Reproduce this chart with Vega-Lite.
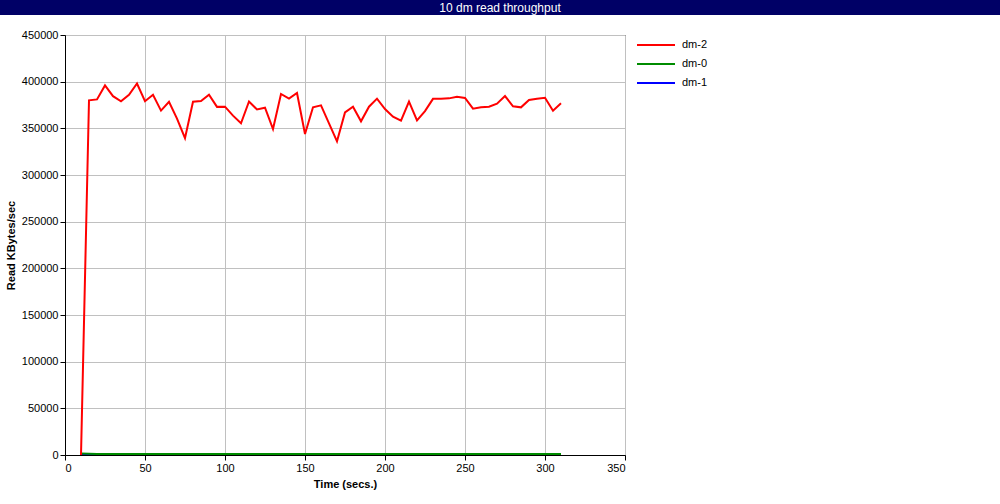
{
  "$schema": "https://vega.github.io/schema/vega-lite/v6.json",
  "padding": 0,
  "background": "white",
  "spacing": 13,
  "config": {
    "font": "Liberation Sans",
    "view": {"stroke": null},
    "axis": {
      "labelFont": "Liberation Sans",
      "labelFontSize": 11,
      "labelColor": "black",
      "titleFont": "Liberation Sans",
      "titleFontSize": 11,
      "titleFontWeight": "bold",
      "titleColor": "black",
      "domainColor": "black",
      "tickColor": "black",
      "tickSize": 5,
      "gridColor": "#c0c0c0",
      "gridOpacity": 1,
      "zindex": 1
    },
    "legend": {
      "labelFont": "Liberation Sans",
      "labelFontSize": 11,
      "labelColor": "black"
    }
  },
  "vconcat": [
    {
      "width": 1000,
      "height": 15,
      "view": {"fill": "#000066", "stroke": null},
      "data": {"values": [{"t": "10 dm read throughput"}]},
      "mark": {"type": "text", "color": "white", "fontSize": 12, "font": "Liberation Sans", "baseline": "middle", "align": "center"},
      "encoding": {"text": {"field": "t"}}
    },
    {
      "bounds": "flush",
      "spacing": 0,
      "hconcat": [
        {
          "width": 65,
          "height": 420,
          "data": {"values": [{"e": ""}]},
          "mark": {"type": "text"},
          "encoding": {"text": {"field": "e"}}
        },
        {
          "width": 560,
          "height": 420,
          "view": {"stroke": "black", "strokeWidth": 1, "fill": "white"},
          "data": {"values": [
            {"t":10,"s":"dm-1","v":1100},{"t":310,"s":"dm-1","v":1100},
            {"t":10,"s":"dm-0","v":1600},{"t":15,"s":"dm-0","v":1400},{"t":20,"s":"dm-0","v":1200},{"t":50,"s":"dm-0","v":1100},{"t":100,"s":"dm-0","v":1100},{"t":150,"s":"dm-0","v":1100},{"t":200,"s":"dm-0","v":1100},{"t":250,"s":"dm-0","v":1100},{"t":310,"s":"dm-0","v":1100},
            {"t":10,"s":"dm-2","v":0},{"t":15,"s":"dm-2","v":380000},{"t":20,"s":"dm-2","v":381000},{"t":25,"s":"dm-2","v":396000},{"t":30,"s":"dm-2","v":384500},{"t":35,"s":"dm-2","v":379000},{"t":40,"s":"dm-2","v":386000},{"t":45,"s":"dm-2","v":398000},{"t":50,"s":"dm-2","v":379000},{"t":55,"s":"dm-2","v":386000},{"t":60,"s":"dm-2","v":369000},{"t":65,"s":"dm-2","v":378500},{"t":70,"s":"dm-2","v":360500},{"t":75,"s":"dm-2","v":339500},{"t":80,"s":"dm-2","v":378500},{"t":85,"s":"dm-2","v":379300},{"t":90,"s":"dm-2","v":386000},{"t":95,"s":"dm-2","v":373000},{"t":100,"s":"dm-2","v":373200},{"t":105,"s":"dm-2","v":363600},{"t":110,"s":"dm-2","v":355400},{"t":115,"s":"dm-2","v":378800},{"t":120,"s":"dm-2","v":370200},{"t":125,"s":"dm-2","v":372100},{"t":130,"s":"dm-2","v":349300},{"t":135,"s":"dm-2","v":386800},{"t":140,"s":"dm-2","v":381800},{"t":145,"s":"dm-2","v":387900},{"t":150,"s":"dm-2","v":343900},{"t":155,"s":"dm-2","v":372500},{"t":160,"s":"dm-2","v":374600},{"t":165,"s":"dm-2","v":355400},{"t":170,"s":"dm-2","v":336100},{"t":175,"s":"dm-2","v":367100},{"t":180,"s":"dm-2","v":373200},{"t":185,"s":"dm-2","v":357500},{"t":190,"s":"dm-2","v":373200},{"t":195,"s":"dm-2","v":381800},{"t":200,"s":"dm-2","v":370700},{"t":205,"s":"dm-2","v":362500},{"t":210,"s":"dm-2","v":358200},{"t":215,"s":"dm-2","v":378600},{"t":220,"s":"dm-2","v":358600},{"t":225,"s":"dm-2","v":368400},{"t":230,"s":"dm-2","v":381600},{"t":235,"s":"dm-2","v":381800},{"t":240,"s":"dm-2","v":382100},{"t":245,"s":"dm-2","v":383900},{"t":250,"s":"dm-2","v":382500},{"t":255,"s":"dm-2","v":371100},{"t":260,"s":"dm-2","v":372500},{"t":265,"s":"dm-2","v":373200},{"t":270,"s":"dm-2","v":376400},{"t":275,"s":"dm-2","v":384600},{"t":280,"s":"dm-2","v":373600},{"t":285,"s":"dm-2","v":372500},{"t":290,"s":"dm-2","v":380400},{"t":295,"s":"dm-2","v":381800},{"t":300,"s":"dm-2","v":382800},{"t":305,"s":"dm-2","v":368900},{"t":310,"s":"dm-2","v":376800}
          ]},
          "mark": {"type": "line", "strokeWidth": 2, "clip": true},
          "encoding": {
            "x": {
              "field": "t", "type": "quantitative",
              "scale": {"domain": [0, 350], "nice": false, "zero": false},
              "axis": {"title": "Time (secs.)", "values": [0,50,100,150,200,250,300,350], "labelPadding": 2, "titlePadding": 5, "grid": true}
            },
            "y": {
              "field": "v", "type": "quantitative",
              "scale": {"domain": [0, 450000], "nice": false},
              "axis": {"title": "Read KBytes/sec", "values": [0,50000,100000,150000,200000,250000,300000,350000,400000,450000], "format": "d", "labelPadding": 2, "titleX": -54, "titleY": 210, "titleBaseline": "middle", "titleAlign": "center", "titleAngle": -90, "grid": true}
            },
            "color": {
              "field": "s", "type": "nominal",
              "scale": {"domain": ["dm-2", "dm-0", "dm-1"], "range": ["#ff0000", "#008c00", "#0000ff"]},
              "legend": {"title": null, "orient": "none", "legendX": 641.5, "legendY": 30.5, "padding": 4, "symbolType": "M-2,0L2,0", "symbolSize": 361, "symbolStrokeWidth": 2, "labelOffset": 15.5, "rowPadding": 3}
            }
          }
        }
      ]
    }
  ]
}
